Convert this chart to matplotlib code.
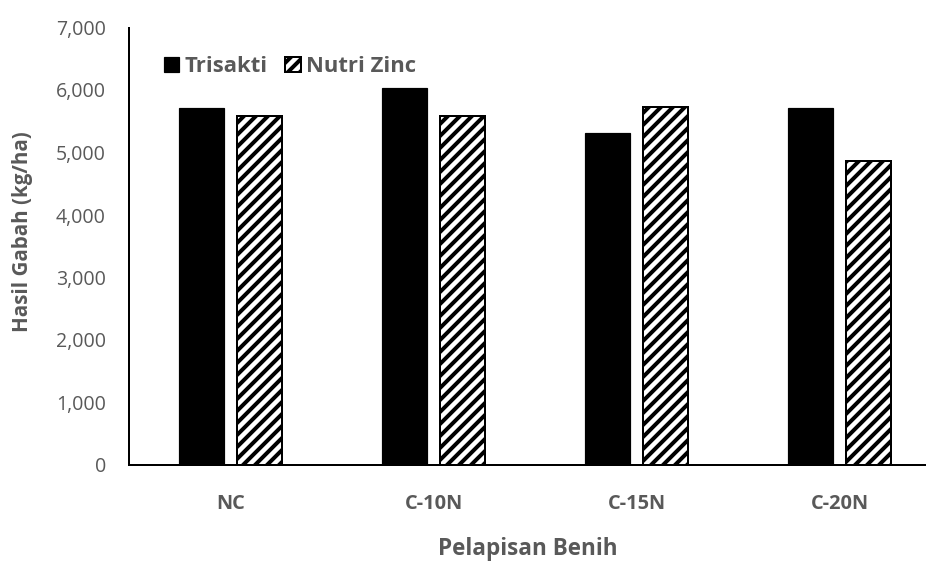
import matplotlib
matplotlib.use("Agg")
import matplotlib.pyplot as plt
import numpy as np
from matplotlib.ticker import FuncFormatter

categories = ["NC", "C-10N", "C-15N", "C-20N"]
trisakti = [5710, 6040, 5315, 5710]
nutri_zinc = [5590, 5590, 5725, 4870]
series_names = ["Trisakti", "Nutri Zinc"]
yticks = [0, 1000, 2000, 3000, 4000, 5000, 6000, 7000]

plt.rcParams['font.family'] = ['Open Sans', 'DejaVu Sans']
plt.rcParams['hatch.linewidth'] = 4.0
plt.rcParams['hatch.color'] = 'black'

DPI = 72
fig = plt.figure(figsize=(926 / DPI, 562 / DPI), dpi=DPI)
ax = fig.add_axes([129 / 926, 1 - 465 / 562, (926 - 129) / 926, (465 - 27.5) / 562])

gray = '#595959'
x = np.arange(len(categories))
w = 0.222
off = 0.1416
ax.bar(x - off, trisakti, w, color='black', edgecolor='black', linewidth=1.2,
       label=series_names[0], zorder=3)
ax.bar(x + off, nutri_zinc, w, color='white', edgecolor='black', linewidth=2.0,
       hatch='//', label=series_names[1], zorder=3)

ax.set_xlim(-0.5, 3.426)
ax.set_ylim(0, 7000)
ax.set_yticks(yticks)
ax.yaxis.set_major_formatter(FuncFormatter(lambda v, p: f"{int(v):,}"))
ax.set_xticks(x)
ax.set_xticklabels(categories, fontweight='bold')

for s in ['top', 'right']:
    ax.spines[s].set_visible(False)
ax.spines['left'].set_linewidth(2)
ax.spines['bottom'].set_linewidth(2)
ax.spines['left'].set_color('black')
ax.spines['bottom'].set_color('black')

ax.tick_params(axis='y', length=0, pad=23, labelsize=19.5, labelcolor=gray)
ax.tick_params(axis='x', length=0, pad=29, labelsize=20, labelcolor=gray)

ax.set_ylabel("Hasil Gabah (kg/ha)", fontsize=20.5, fontweight='bold', color=gray)
ax.yaxis.set_label_coords(-0.12, 0.533)
ax.set_xlabel("Pelapisan Benih", fontsize=22.5, fontweight='bold', color=gray, labelpad=23)

leg = ax.legend(loc='upper left', bbox_to_anchor=(0.0325, 0.955), ncol=2, frameon=False,
                prop={'weight': 'bold', 'size': 22}, handlelength=0.7, handleheight=0.7,
                handletextpad=0.25, columnspacing=0.8, borderaxespad=0)
for t in leg.get_texts():
    t.set_color(gray)

fig.savefig("out.png", dpi=DPI)
